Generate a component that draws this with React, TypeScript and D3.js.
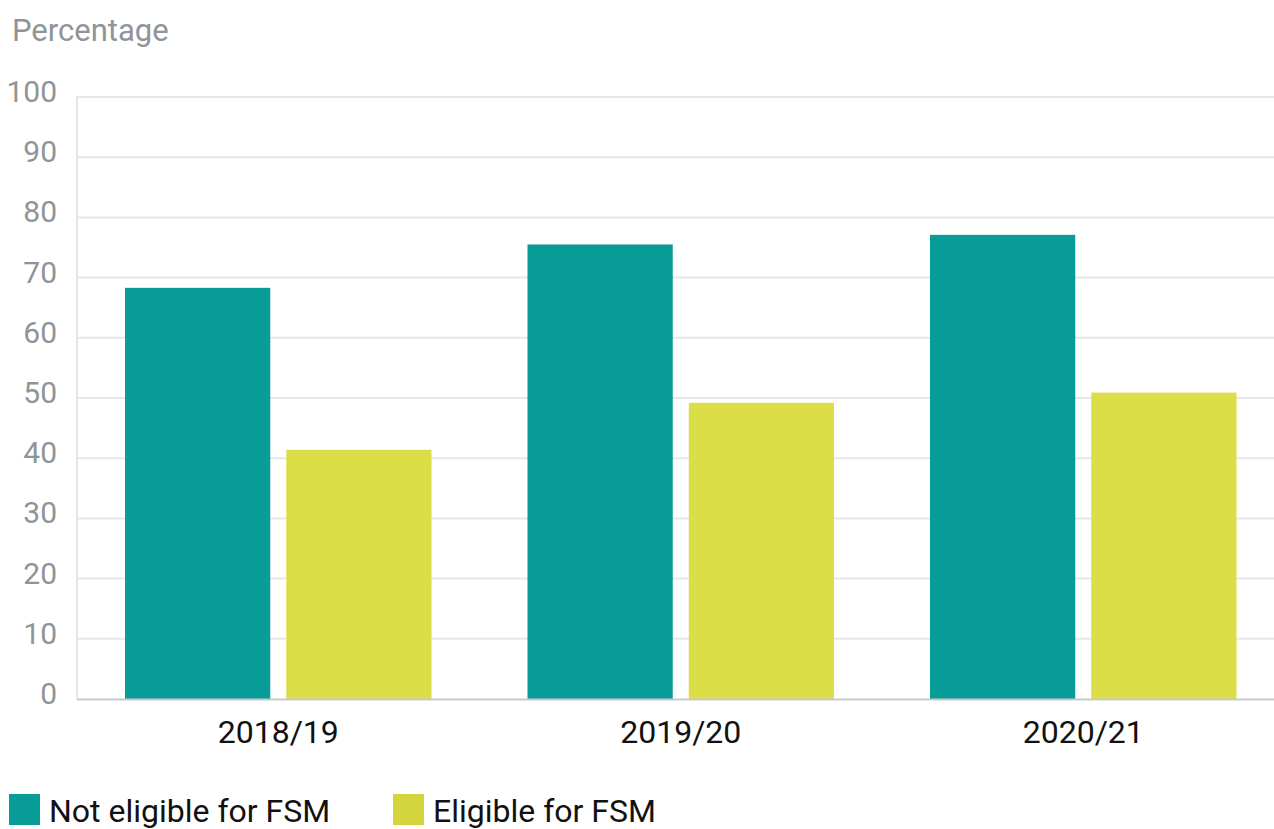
import React, { useRef, useEffect } from "react";
import * as d3 from "d3";

// values
const years = ["2018/19", "2019/20", "2020/21"];
const seriesNames = ["Not eligible for FSM", "Eligible for FSM"];
const notEligible = [68.3, 75.5, 77.1];
const eligible = [41.4, 49.2, 50.9];
const yTicks = [0, 10, 20, 30, 40, 50, 60, 70, 80, 90, 100];

const barColors = ["#079c97", "#dcde47"];
const legendColors = ["#089c97", "#d4d43f"];

const App = () => {
  const ref = useRef<SVGSVGElement>(null);
  const width = 1274;
  const height = 829;
  const margin = { top: 97, left: 77, bottom: 699 };

  useEffect(() => {
    const svg = d3.select(ref.current);
    svg.selectAll("*").remove();

    const font = "Roboto, 'Noto Sans', sans-serif";

    const x0 = d3.scaleBand<string>().domain(years).range([margin.left, margin.left + 402.5 * 3]).paddingInner(0).paddingOuter(0);
    const x1 = d3
      .scaleBand<string>()
      .domain(seriesNames)
      .range([48, 402.5 - 48])
      .paddingInner(16 / 161);
    const y = d3.scaleLinear().domain([0, 100]).range([margin.bottom, margin.top]);

    // y axis title
    svg
      .append("text")
      .attr("x", 12)
      .attr("y", 41)
      .attr("font-family", font)
      .attr("font-size", 31)
      .attr("fill", "#8f9498")
      .text("Percentage");

    // gridlines
    svg
      .append("g")
      .selectAll("line")
      .data(yTicks.filter((d) => d > 0))
      .enter()
      .append("line")
      .attr("x1", margin.left)
      .attr("x2", width)
      .attr("y1", (d) => y(d))
      .attr("y2", (d) => y(d))
      .attr("stroke", "#e5e7eb")
      .attr("stroke-width", 2);

    // left axis line
    svg
      .append("line")
      .attr("x1", margin.left)
      .attr("x2", margin.left)
      .attr("y1", margin.top - 1)
      .attr("y2", margin.bottom)
      .attr("stroke", "#e3e5e9")
      .attr("stroke-width", 2);

    // tick labels
    svg
      .append("g")
      .selectAll("text")
      .data(yTicks)
      .enter()
      .append("text")
      .attr("x", 57)
      .attr("y", (d) => y(d) + 5)
      .attr("text-anchor", "end")
      .attr("font-family", font)
      .attr("font-size", 30)
      .attr("fill", "#8f9498")
      .text((d) => d);

    // bars
    const rows = years.map((yr, i) => ({ yr, vals: [notEligible[i], eligible[i]] }));
    const groups = svg
      .append("g")
      .selectAll("g")
      .data(rows)
      .enter()
      .append("g")
      .attr("transform", (d) => `translate(${x0(d.yr)},0)`);

    groups
      .selectAll("rect")
      .data((d) => d.vals.map((v, j) => ({ name: seriesNames[j], v, j })))
      .enter()
      .append("rect")
      .attr("x", (d) => x1(d.name)!)
      .attr("y", (d) => y(d.v))
      .attr("width", x1.bandwidth())
      .attr("height", (d) => y(0) - y(d.v))
      .attr("fill", (d) => barColors[d.j]);

    // baseline
    svg
      .append("line")
      .attr("x1", margin.left)
      .attr("x2", width)
      .attr("y1", margin.bottom + 0.5)
      .attr("y2", margin.bottom + 0.5)
      .attr("stroke", "#c8c9cd")
      .attr("stroke-width", 2);

    // category labels
    svg
      .append("g")
      .selectAll("text")
      .data(years)
      .enter()
      .append("text")
      .attr("x", (d) => x0(d)! + x0.bandwidth() / 2)
      .attr("y", 743)
      .attr("text-anchor", "middle")
      .attr("font-family", font)
      .attr("font-size", 32)
      .attr("fill", "#111")
      .text((d) => d);

    // legend
    const legendX = [9, 393];
    const legend = svg
      .append("g")
      .selectAll("g")
      .data(seriesNames)
      .enter()
      .append("g")
      .attr("transform", (d, i) => `translate(${legendX[i]},794)`);
    legend
      .append("rect")
      .attr("width", 31)
      .attr("height", 31)
      .attr("fill", (d, i) => legendColors[i]);
    legend
      .append("text")
      .attr("x", 40)
      .attr("y", 28)
      .attr("font-family", font)
      .attr("font-size", 32)
      .attr("fill", "#111")
      .text((d) => d);
  }, []);

  return (
    <svg
      ref={ref}
      width={width}
      height={height}
      style={{ position: "absolute", left: 0, top: 0, background: "#fff" }}
    />
  );
};

export default App;
